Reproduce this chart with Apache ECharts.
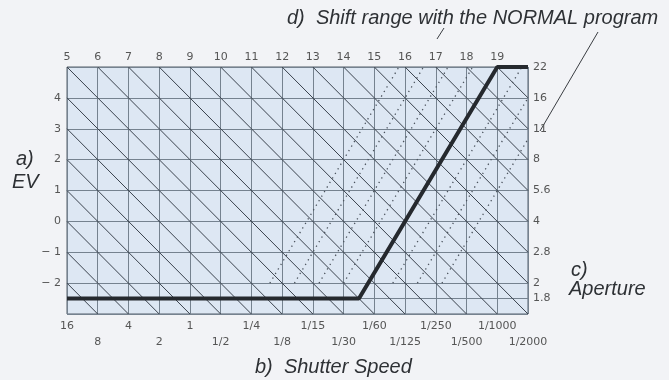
<!DOCTYPE html>
<html>
<head>
<meta charset="utf-8">
<script src="https://cdn.jsdelivr.net/npm/echarts@6/dist/echarts.min.js"></script>
<style>
  html, body { margin: 0; padding: 0; background: #f2f3f6; }
  #main { width: 669px; height: 380px; }
</style>
</head>
<body>
<div id="main"></div>
<script>
// shutter speeds along the bottom (x = 0..15)
const shutterSpeeds = ["16", "8", "4", "2", "1", "1/2", "1/4", "1/8", "1/15", "1/30", "1/60", "1/125", "1/250", "1/500", "1/1000", "1/2000"];
// EV numbers on top, at x = 0..14
const topEV = ["5", "6", "7", "8", "9", "10", "11", "12", "13", "14", "15", "16", "17", "18", "19"];
// EV on the left, y = 4 .. -2
const leftEV = { "4": "4", "3": "3", "2": "2", "1": "1", "0": "0", "-1": "\u2212 1", "-2": "\u2212 2" };
// aperture on the right
const apertureY = [5, 4, 3, 2, 1, 0, -1, -2, -2.5];
const apertureLabels = ["22", "16", "11", "8", "5.6", "4", "2.8", "2", "1.8"];
// EV diagonals (x + y = EV)
const evLines = [-2, -1, 0, 1, 2, 3, 4, 5, 6, 7, 8, 9, 10, 11, 12, 13, 14, 15, 16, 17, 18, 19];
// NORMAL program line
const programLine = [[0, -2.5], [9.5, -2.5], [14, 5], [15, 5]];
// shifted copies of the program (dotted), horizontal offsets
const shiftOffsets = [-3.2, -2.4, -1.6, -0.8, 0.8, 1.6, 2.4];
const shiftBottom = -2;

const X0 = 0, X1 = 15, Y1 = 5;

function clipSeg(p, q, y0) {
  // clip segment p->q to the box
  let t0 = 0, t1 = 1;
  const dx = q[0] - p[0], dy = q[1] - p[1];
  const checks = [[-dx, p[0] - X0], [dx, X1 - p[0]], [-dy, p[1] - y0], [dy, Y1 - p[1]]];
  for (const [pp, qq] of checks) {
    if (pp === 0) { if (qq < 0) return null; continue; }
    const r = qq / pp;
    if (pp < 0) { if (r > t1) return null; if (r > t0) t0 = r; }
    else { if (r < t0) return null; if (r < t1) t1 = r; }
  }
  return [[p[0] + t0 * dx, p[1] + t0 * dy], [p[0] + t1 * dx, p[1] + t1 * dy]];
}

const diagData = evLines.map(ev => ({ coords: clipSeg([ev - Y1, Y1], [ev + 3, -3], -3) })).filter(d => d.coords);
const shiftData = shiftOffsets.map(o => ({
  coords: clipSeg([programLine[1][0] + o, programLine[1][1]], [programLine[2][0] + o, programLine[2][1]], shiftBottom)
})).filter(d => d.coords);

const chart = echarts.init(document.getElementById("main"));
const labelFont = { color: "#555", fontSize: 11, fontFamily: "DejaVu Sans" };
const gridColor = "#75828f";
const bigFont = "italic 20px 'Liberation Sans'";

const option = {
  backgroundColor: "#f2f3f6",
  animation: false,
  grid: {
    left: 67, right: 141, top: 67, bottom: 66,
    show: true, backgroundColor: "#dde7f3", borderColor: "#555e6a", borderWidth: 1
  },
  xAxis: [
    {
      type: "value", min: 0, max: 15, interval: 1, position: "bottom",
      axisLine: { show: false }, axisTick: { show: false },
      splitLine: { show: true, lineStyle: { color: gridColor, width: 1 } },
      axisLabel: Object.assign({ margin: 7, formatter: v => (Math.round(v) % 2 === 0 ? shutterSpeeds[Math.round(v)] : "") }, labelFont)
    },
    {
      type: "value", min: 0, max: 15, interval: 1, position: "bottom", offset: 16,
      axisLine: { show: false }, axisTick: { show: false }, splitLine: { show: false },
      axisLabel: Object.assign({ margin: 7, formatter: v => (Math.round(v) % 2 === 1 ? shutterSpeeds[Math.round(v)] : "") }, labelFont)
    },
    {
      type: "value", min: 0, max: 15, interval: 1, position: "top",
      axisLine: { show: false }, axisTick: { show: false }, splitLine: { show: false },
      axisLabel: Object.assign({ margin: 4, formatter: v => topEV[Math.round(v)] || "" }, labelFont)
    }
  ],
  yAxis: [
    {
      type: "value", min: -3, max: 5, interval: 1, position: "left",
      axisLine: { show: false }, axisTick: { show: false },
      splitLine: { show: true, lineStyle: { color: gridColor, width: 1 } },
      axisLabel: Object.assign({ margin: 6, formatter: v => (v < 5 && v > -3 ? leftEV[String(Math.round(v))] : "") }, labelFont)
    },
    {
      type: "value", min: -3, max: 5, interval: 0.5, position: "right",
      axisLine: { show: false }, axisTick: { show: false }, splitLine: { show: false },
      axisLabel: Object.assign({
        margin: 5,
        formatter: v => { const i = apertureY.indexOf(v); return i >= 0 ? apertureLabels[i] : ""; }
      }, labelFont)
    }
  ],
  series: [
    {
      type: "lines", coordinateSystem: "cartesian2d", xAxisIndex: 0, yAxisIndex: 0,
      data: [{ coords: [[0, apertureY[8]], [15, apertureY[8]]] }],
      lineStyle: { color: gridColor, width: 1, opacity: 1 }, silent: true, z: 2
    },
    {
      type: "lines", coordinateSystem: "cartesian2d", xAxisIndex: 0, yAxisIndex: 0,
      data: diagData,
      lineStyle: { color: "#3a424d", width: 1, opacity: 1 }, silent: true, z: 3
    },
    {
      type: "lines", coordinateSystem: "cartesian2d", xAxisIndex: 0, yAxisIndex: 0,
      data: shiftData,
      lineStyle: { color: "#4a525c", width: 1.3, type: [1.3, 4], opacity: 1 }, silent: true, z: 3
    },
    {
      type: "line", xAxisIndex: 0, yAxisIndex: 0,
      data: programLine, symbol: "none",
      lineStyle: { color: "#25292e", width: 4 }, z: 5
    }
  ],
  graphic: [
    { type: "text", left: 287, top: 8, style: { text: "d)  Shift range with the NORMAL program", font: bigFont, fill: "#2e3135" } },
    { type: "line", shape: { x1: 437, y1: 39, x2: 444, y2: 28 }, style: { stroke: "#3a3d42", lineWidth: 1 } },
    { type: "line", shape: { x1: 598, y1: 32, x2: 540, y2: 131 }, style: { stroke: "#3a3d42", lineWidth: 1 } },
    { type: "text", left: 16, top: 149, style: { text: "a)", font: bigFont, fill: "#2e3135" } },
    { type: "text", left: 12, top: 172, style: { text: "EV", font: bigFont, fill: "#2e3135" } },
    { type: "text", left: 571, top: 260, style: { text: "c)", font: bigFont, fill: "#2e3135" } },
    { type: "text", left: 569, top: 279, style: { text: "Aperture", font: bigFont, fill: "#2e3135" } },
    { type: "text", left: 255, top: 357, style: { text: "b)  Shutter Speed", font: bigFont, fill: "#2e3135" } }
  ]
};

chart.setOption(option);
</script>
</body>
</html>
